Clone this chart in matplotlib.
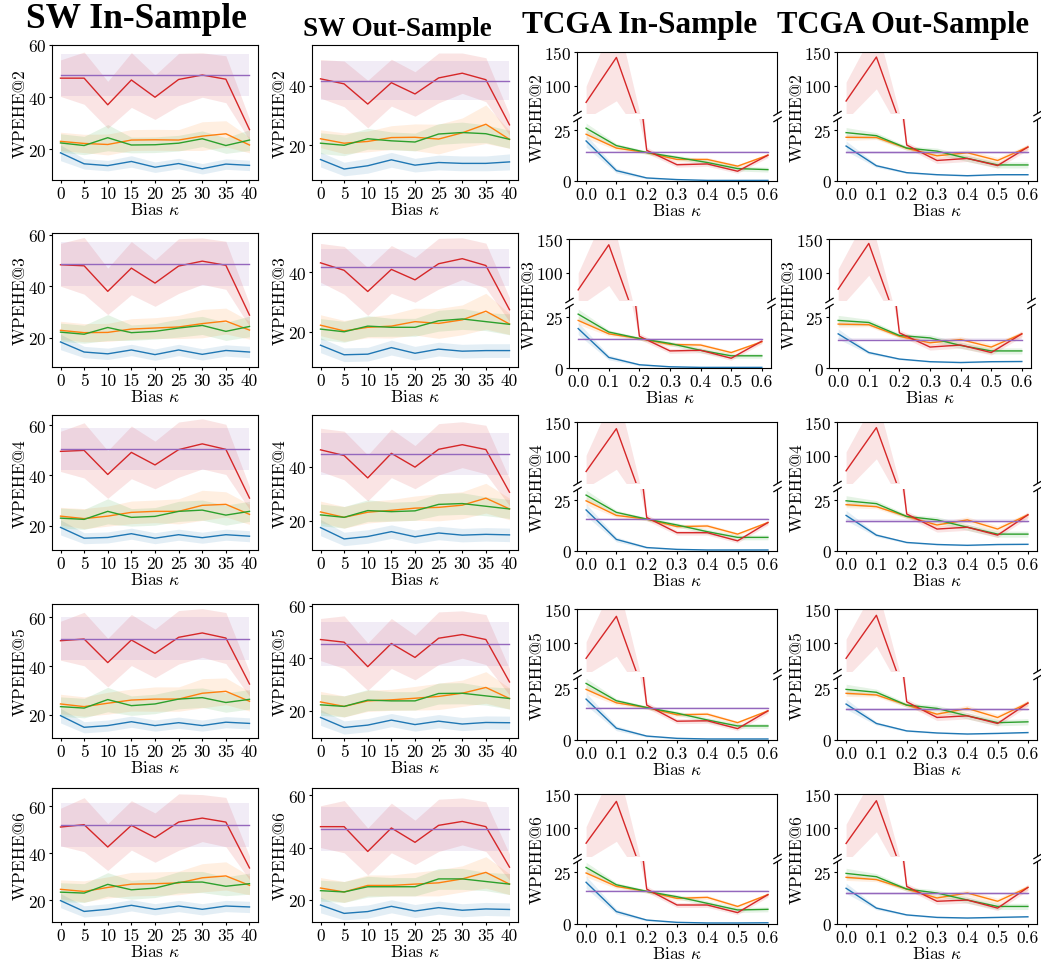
import matplotlib
matplotlib.use("Agg")
import matplotlib.pyplot as plt
from matplotlib.ticker import MultipleLocator, FixedLocator

plt.rcParams['font.family'] = ['cmr10', 'DejaVu Serif']
plt.rcParams['mathtext.fontset'] = 'cm'
plt.rcParams['axes.formatter.use_mathtext'] = True
plt.rcParams['axes.unicode_minus'] = False

# ---------------- data ----------------
SW_X = [0, 5, 10, 15, 20, 25, 30, 35, 40]
TCGA_X = [0.0, 0.1, 0.2, 0.3, 0.4, 0.5, 0.6]
TCGA_TICKLABELS = ["0.0", "0.1", "0.2", "0.3", "0.4", "0.5", "0.6"]
K_VALUES = [2, 3, 4, 5, 6]
COLUMN_TITLES = ["SW In-Sample", "SW Out-Sample", "TCGA In-Sample", "TCGA Out-Sample"]
SERIES_COLORS = ["tab:blue", "tab:orange", "tab:green", "tab:red"]
BASE_COLOR = "tab:purple"

# rows: blue, orange, green, red ; base = [mean, half-width]
swin_k2_mean = [[18.7, 14.5, 13.8, 15.4, 13.2, 14.6, 12.6, 14.4, 13.9],
                [23.1, 22.3, 21.9, 23.6, 23.7, 23.6, 25.1, 26.0, 21.7],
                [22.5, 21.5, 24.5, 21.7, 21.8, 22.4, 24.1, 21.5, 23.6],
                [47.3, 47.3, 37.1, 46.6, 40.0, 46.8, 48.5, 46.9, 27.6]]
swin_k2_err = [[3.0, 2.0, 2.0, 2.2, 2.0, 2.0, 2.0, 2.0, 2.0],
               [3.5, 3.5, 4.0, 4.0, 4.0, 4.0, 5.5, 5.0, 3.0],
               [3.5, 3.5, 5.0, 3.0, 3.0, 3.0, 3.0, 3.0, 4.0],
               [7.0, 10.0, 9.0, 10.5, 8.5, 10.0, 8.5, 9.0, 4.0]]
swin_k2_base = [48.5, 8.1]

swout_k2_mean = [[15.2, 12.0, 13.1, 15.1, 13.3, 14.2, 13.9, 13.9, 14.4],
                 [22.2, 20.7, 21.3, 22.6, 22.7, 22.1, 24.2, 27.1, 22.0],
                 [20.7, 20.0, 22.2, 21.5, 21.1, 23.8, 24.3, 23.9, 22.0],
                 [42.4, 40.7, 33.9, 41.1, 37.3, 42.7, 44.3, 42.1, 26.9]]
swout_k2_err = [[2.5, 2.3, 2.5, 2.5, 2.3, 2.5, 2.5, 2.5, 2.7],
                [3.0, 3.5, 3.5, 4.0, 4.5, 5.0, 5.0, 6.5, 3.0],
                [3.5, 3.5, 3.5, 3.0, 3.0, 3.5, 3.5, 3.0, 3.0],
                [6.5, 7.7, 8.0, 7.9, 7.5, 8.4, 6.8, 7.4, 3.5]]
swout_k2_base = [41.8, 6.5]

swin_k3_mean = [[18.4, 14.5, 13.8, 15.3, 13.5, 15.3, 13.6, 15.1, 14.5],
                [22.9, 22.0, 22.1, 23.4, 23.8, 24.2, 25.5, 26.5, 23.0],
                [22.2, 21.4, 24.0, 22.0, 22.5, 23.8, 24.8, 22.5, 24.4],
                [48.3, 47.9, 38.0, 47.0, 41.2, 47.8, 49.7, 48.1, 28.8]]
swin_k3_err = [[3.0, 2.2, 2.2, 2.2, 2.2, 2.2, 2.2, 2.2, 2.2],
               [3.5, 3.5, 3.5, 4.0, 4.0, 4.5, 5.5, 5.0, 3.5],
               [3.5, 3.5, 5.0, 3.0, 3.0, 3.5, 3.5, 3.5, 4.0],
               [8.3, 11.0, 9.0, 10.3, 9.0, 10.6, 9.0, 9.3, 4.3]]
swin_k3_base = [48.6, 8.4]

swout_k3_mean = [[15.5, 12.3, 12.5, 14.7, 12.8, 14.2, 13.5, 13.7, 13.7],
                 [22.2, 20.3, 21.5, 21.9, 23.4, 22.8, 24.0, 26.9, 22.6],
                 [20.9, 20.0, 21.9, 21.5, 21.5, 23.7, 24.3, 23.4, 22.5],
                 [43.1, 40.6, 33.5, 40.9, 37.4, 42.8, 44.5, 42.2, 27.4]]
swout_k3_err = [[2.5, 2.3, 2.3, 2.5, 2.3, 2.3, 2.3, 2.3, 2.3],
                [3.5, 3.5, 3.5, 4.0, 4.5, 5.0, 5.0, 6.0, 3.5],
                [3.5, 3.5, 3.5, 3.0, 3.0, 3.5, 3.5, 3.0, 3.5],
                [6.5, 8.0, 8.0, 8.0, 7.5, 8.5, 7.0, 7.5, 4.0]]
swout_k3_base = [41.6, 6.3]

swin_k4_mean = [[19.3, 15.0, 15.3, 16.8, 15.0, 16.4, 15.2, 16.4, 15.8],
                [23.8, 22.8, 23.8, 25.3, 25.7, 25.7, 28.1, 28.5, 24.5],
                [23.0, 22.5, 25.7, 23.3, 23.7, 25.7, 26.2, 24.2, 25.7],
                [49.6, 50.0, 40.4, 49.2, 44.2, 50.3, 52.6, 50.4, 31.0]]
swin_k4_err = [[3.0, 2.2, 2.2, 2.2, 2.2, 2.2, 2.2, 2.2, 2.2],
               [3.5, 4.0, 4.0, 4.5, 4.5, 5.0, 6.0, 5.0, 4.0],
               [4.0, 4.0, 5.0, 3.5, 3.5, 4.0, 4.0, 4.0, 4.0],
               [8.0, 11.0, 9.5, 10.5, 9.5, 11.0, 10.0, 10.0, 4.5]]
swin_k4_base = [50.6, 8.5]

swout_k4_mean = [[17.4, 13.2, 14.1, 15.9, 14.0, 15.4, 14.6, 14.9, 14.7],
                 [23.2, 21.2, 23.1, 23.8, 24.6, 24.9, 25.7, 28.3, 24.3],
                 [22.1, 21.2, 23.7, 23.3, 23.6, 26.0, 26.3, 25.3, 24.3],
                 [46.2, 44.1, 35.8, 44.9, 39.8, 46.4, 48.1, 46.3, 30.5]]
swout_k4_err = [[3.0, 2.5, 2.5, 2.5, 2.5, 2.5, 2.5, 2.5, 2.5],
                [4.0, 4.0, 4.0, 4.0, 4.5, 5.0, 5.0, 5.5, 4.0],
                [4.0, 4.0, 4.0, 3.5, 3.5, 4.0, 4.0, 3.5, 3.5],
                [8.0, 9.0, 8.5, 9.0, 8.0, 9.5, 8.5, 9.0, 5.0]]
swout_k4_base = [44.7, 7.7]

swin_k5_mean = [[19.6, 14.8, 15.5, 17.1, 15.5, 16.7, 15.5, 16.9, 16.4],
                [24.4, 23.3, 24.7, 26.0, 26.4, 26.4, 28.8, 29.6, 25.5],
                [23.3, 22.7, 26.2, 23.7, 24.4, 26.4, 27.0, 25.0, 26.3],
                [50.4, 51.1, 41.4, 50.7, 45.2, 51.8, 53.6, 51.5, 32.6]]
swin_k5_err = [[3.0, 2.3, 2.3, 2.3, 2.3, 2.3, 2.3, 2.3, 2.3],
               [4.0, 4.0, 4.5, 4.5, 5.0, 5.0, 6.0, 5.5, 4.0],
               [4.0, 4.0, 5.0, 4.0, 4.0, 4.0, 4.0, 4.0, 4.0],
               [8.0, 11.0, 10.0, 10.5, 10.0, 11.0, 10.0, 10.5, 5.0]]
swin_k5_base = [51.2, 8.9]

swout_k5_mean = [[17.5, 13.7, 14.6, 16.5, 14.8, 16.1, 15.0, 15.6, 15.5],
                 [23.4, 21.7, 23.8, 24.2, 24.8, 25.5, 26.7, 28.9, 24.7],
                 [22.3, 21.7, 24.1, 23.8, 23.8, 26.6, 26.7, 25.7, 24.7],
                 [47.1, 46.1, 36.8, 45.6, 40.3, 47.6, 49.0, 47.1, 31.0]]
swout_k5_err = [[3.0, 2.5, 2.5, 2.5, 2.5, 2.5, 2.5, 2.5, 2.5],
                [4.0, 4.0, 4.0, 4.0, 4.5, 5.0, 5.0, 6.0, 4.0],
                [4.0, 4.0, 4.0, 3.5, 3.5, 4.0, 4.0, 3.5, 4.0],
                [8.0, 10.0, 9.0, 9.5, 8.5, 10.0, 9.0, 9.5, 5.0]]
swout_k5_base = [45.4, 8.2]

swin_k6_mean = [[19.9, 15.3, 16.2, 17.9, 16.2, 17.6, 16.2, 17.6, 17.2],
                [24.7, 23.8, 25.5, 26.9, 27.1, 27.4, 29.6, 30.4, 26.4],
                [23.5, 23.1, 26.8, 24.5, 25.2, 27.7, 27.8, 26.0, 27.1],
                [51.2, 52.2, 42.7, 51.9, 46.7, 53.3, 55.0, 53.3, 33.8]]
swin_k6_err = [[3.0, 2.4, 2.4, 2.4, 2.4, 2.4, 2.4, 2.4, 2.4],
               [4.0, 4.5, 4.5, 5.0, 5.0, 5.0, 6.0, 6.0, 4.0],
               [4.0, 4.0, 5.0, 4.0, 4.0, 4.5, 4.5, 4.0, 4.5],
               [8.0, 11.5, 10.0, 10.5, 10.5, 12.0, 10.0, 10.5, 5.0]]
swin_k6_base = [52.1, 9.3]

swout_k6_mean = [[18.0, 14.8, 15.5, 17.5, 15.7, 17.0, 16.0, 16.5, 16.3],
                 [24.5, 23.0, 25.5, 25.5, 26.0, 26.5, 28.0, 30.5, 26.0],
                 [23.5, 23.0, 25.0, 25.0, 25.0, 28.0, 28.0, 27.0, 26.0],
                 [48.0, 48.0, 38.5, 47.5, 42.0, 48.5, 50.0, 48.0, 32.5]]
swout_k6_err = [[3.0, 2.5, 2.5, 2.5, 2.5, 2.5, 2.5, 2.5, 2.5],
                [4.0, 4.0, 4.0, 4.0, 4.5, 5.0, 5.0, 6.0, 4.0],
                [4.0, 4.0, 4.0, 3.5, 3.5, 4.0, 4.0, 3.5, 4.0],
                [8.0, 10.0, 9.0, 9.5, 8.5, 10.0, 9.0, 9.5, 5.0]]
swout_k6_base = [47.0, 8.5]

SW_YLIMS = [[(8.3, 60.0), (8.3, 53.8)],
            [(8.7, 60.6), (8.2, 53.1)],
            [(10.3, 64.1), (9.1, 59.1)],
            [(10.4, 65.5), (9.7, 60.6)],
            [(10.8, 67.8), (11.5, 62.8)]]

tcgain_k2_mean = [[19.7, 5.1, 1.5, 0.7, 0.3, 0.3, 0.3],
                  [23.0, 16.2, 14.0, 10.6, 10.6, 7.3, 12.7],
                  [26.0, 17.4, 14.0, 11.6, 9.1, 6.1, 5.6],
                  [75.7, 142.0, 15.1, 8.0, 8.4, 4.8, 12.7]]
tcgain_k2_err = [[3.0, 1.2, 0.5, 0.3, 0.2, 0.2, 0.2],
                 [2.0, 1.0, 0.8, 1.0, 1.0, 0.8, 0.8],
                 [2.5, 1.0, 0.8, 1.0, 1.2, 1.2, 1.2],
                 [24.0, 64.0, 1.5, 1.2, 1.2, 1.0, 1.2]]
tcgain_k2_base = [14.1, 0.5]

tcgaout_k2_mean = [[17.2, 7.5, 4.1, 3.1, 2.6, 3.1, 3.1],
                   [21.5, 21.4, 16.1, 12.4, 13.9, 10.1, 16.7],
                   [23.8, 22.3, 16.2, 14.7, 11.1, 7.9, 7.9],
                   [77.7, 142.6, 17.7, 10.1, 11.1, 7.6, 16.7]]
tcgaout_k2_err = [[2.5, 0.8, 0.4, 0.3, 0.3, 0.3, 0.3],
                  [1.5, 1.0, 1.0, 1.2, 1.5, 1.5, 1.2],
                  [2.5, 1.5, 1.0, 1.5, 1.5, 1.5, 1.5],
                  [28.0, 47.0, 1.5, 1.5, 1.5, 1.2, 1.5]]
tcgaout_k2_base = [14.1, 0.8]

tcgain_k3_mean = [[19.4, 5.2, 1.6, 0.6, 0.3, 0.3, 0.3],
                  [23.4, 16.8, 14.5, 11.6, 11.3, 7.6, 12.9],
                  [26.5, 17.7, 14.5, 12.1, 8.7, 6.0, 6.0],
                  [75.0, 141.5, 15.6, 8.4, 8.7, 4.8, 13.2]]
tcgain_k3_err = [[3.0, 1.2, 0.5, 0.3, 0.2, 0.2, 0.2],
                 [2.0, 1.0, 0.8, 1.0, 1.0, 0.8, 0.8],
                 [2.5, 1.0, 0.8, 1.0, 1.2, 1.2, 1.2],
                 [25.0, 60.0, 1.5, 1.2, 1.2, 1.0, 1.2]]
tcgain_k3_base = [14.5, 0.5]

tcgaout_k3_mean = [[16.8, 7.6, 4.4, 3.1, 2.7, 3.1, 3.2],
                   [21.6, 21.3, 15.6, 12.4, 14.0, 10.3, 16.8],
                   [23.4, 22.4, 16.0, 14.8, 11.1, 8.4, 8.4],
                   [76.0, 143.5, 17.3, 10.3, 11.3, 7.6, 16.8]]
tcgaout_k3_err = [[2.5, 0.8, 0.4, 0.3, 0.3, 0.3, 0.3],
                  [1.5, 1.0, 1.0, 1.2, 1.5, 1.5, 1.2],
                  [2.5, 1.5, 1.0, 1.5, 1.5, 1.5, 1.5],
                  [30.0, 47.0, 1.5, 1.5, 1.5, 1.2, 1.5]]
tcgaout_k3_base = [14.0, 0.8]

tcgain_k4_mean = [[20.2, 5.7, 1.7, 0.8, 0.5, 0.5, 0.5],
                  [24.7, 17.5, 15.7, 12.0, 12.3, 8.3, 14.0],
                  [27.5, 19.0, 15.7, 12.8, 9.5, 6.7, 6.7],
                  [77.0, 140.2, 16.5, 9.0, 9.0, 5.0, 14.0]]
tcgain_k4_err = [[3.0, 1.2, 0.5, 0.3, 0.2, 0.2, 0.2],
                 [2.0, 1.0, 0.8, 1.0, 1.0, 0.8, 0.8],
                 [2.5, 1.0, 0.8, 1.0, 1.2, 1.2, 1.2],
                 [24.0, 60.0, 1.5, 1.2, 1.2, 1.0, 1.2]]
tcgain_k4_base = [15.7, 0.5]

tcgaout_k4_mean = [[17.5, 7.8, 4.2, 3.2, 2.8, 3.2, 3.3],
                   [22.8, 21.8, 17.0, 12.8, 15.3, 10.8, 17.8],
                   [24.7, 23.3, 17.0, 15.3, 11.7, 8.3, 8.3],
                   [78.0, 141.7, 18.2, 10.8, 11.7, 7.8, 17.8]]
tcgaout_k4_err = [[2.5, 0.8, 0.4, 0.3, 0.3, 0.3, 0.3],
                  [1.5, 1.0, 1.0, 1.2, 1.5, 1.5, 1.2],
                  [2.5, 1.5, 1.0, 1.5, 1.5, 1.5, 1.5],
                  [28.0, 46.0, 1.5, 1.5, 1.5, 1.2, 1.5]]
tcgaout_k4_base = [14.8, 0.8]

tcgain_k5_mean = [[19.8, 5.7, 1.9, 0.8, 0.5, 0.5, 0.5],
                  [24.5, 18.0, 15.7, 12.2, 12.5, 8.4, 14.1],
                  [27.4, 19.0, 15.7, 13.0, 9.7, 6.8, 6.8],
                  [78.4, 139.4, 16.9, 9.1, 9.3, 5.5, 14.1]]
tcgain_k5_err = [[3.0, 1.2, 0.5, 0.3, 0.2, 0.2, 0.2],
                 [2.0, 1.0, 0.8, 1.0, 1.0, 0.8, 0.8],
                 [2.5, 1.0, 0.8, 1.0, 1.2, 1.2, 1.2],
                 [24.0, 58.0, 1.5, 1.2, 1.2, 1.0, 1.2]]
tcgain_k5_base = [15.7, 0.5]

tcgaout_k5_mean = [[17.4, 8.0, 4.4, 3.4, 2.9, 3.2, 3.6],
                   [22.6, 21.8, 16.9, 12.5, 15.3, 10.9, 17.9],
                   [24.5, 23.1, 16.9, 15.3, 11.7, 8.4, 8.8],
                   [78.4, 140.9, 18.5, 10.9, 11.7, 8.0, 17.9]]
tcgaout_k5_err = [[2.5, 0.8, 0.4, 0.3, 0.3, 0.3, 0.3],
                  [1.5, 1.0, 1.0, 1.2, 1.5, 1.5, 1.2],
                  [2.5, 1.5, 1.0, 1.5, 1.5, 1.5, 1.5],
                  [28.0, 45.0, 1.5, 1.5, 1.5, 1.2, 1.5]]
tcgaout_k5_base = [14.9, 0.8]

tcgain_k6_mean = [[20.2, 6.0, 1.9, 0.8, 0.5, 0.5, 0.6],
                  [24.7, 18.2, 15.8, 12.4, 12.9, 8.5, 14.2],
                  [27.4, 19.0, 15.8, 13.2, 10.0, 6.8, 7.1],
                  [78.6, 139.3, 16.9, 9.2, 9.2, 5.5, 14.2]]
tcgain_k6_err = [[3.0, 1.2, 0.5, 0.3, 0.2, 0.2, 0.2],
                 [2.0, 1.0, 0.8, 1.0, 1.0, 0.8, 0.8],
                 [2.5, 1.0, 0.8, 1.0, 1.2, 1.2, 1.2],
                 [24.0, 58.0, 1.5, 1.2, 1.2, 1.0, 1.2]]
tcgain_k6_base = [15.8, 0.5]

tcgaout_k6_mean = [[17.3, 7.7, 4.4, 3.2, 2.9, 3.2, 3.5],
                   [22.6, 21.5, 16.9, 12.6, 15.0, 11.0, 17.7],
                   [24.5, 22.9, 16.9, 15.0, 11.6, 8.5, 8.5],
                   [78.2, 140.3, 18.2, 11.0, 11.6, 7.7, 17.7]]
tcgaout_k6_err = [[2.5, 0.8, 0.4, 0.3, 0.3, 0.3, 0.3],
                  [1.5, 1.0, 1.0, 1.2, 1.5, 1.5, 1.2],
                  [2.5, 1.5, 1.0, 1.5, 1.5, 1.5, 1.5],
                  [28.0, 45.0, 1.5, 1.5, 1.5, 1.2, 1.5]]
tcgaout_k6_base = [14.8, 0.8]

TCGA_UPPER_YLIM = (60, 150)
TCGA_LOWER_YLIM = (0, 30.5)

SW_PANELS = [
    [(swin_k2_mean, swin_k2_err, swin_k2_base), (swout_k2_mean, swout_k2_err, swout_k2_base)],
    [(swin_k3_mean, swin_k3_err, swin_k3_base), (swout_k3_mean, swout_k3_err, swout_k3_base)],
    [(swin_k4_mean, swin_k4_err, swin_k4_base), (swout_k4_mean, swout_k4_err, swout_k4_base)],
    [(swin_k5_mean, swin_k5_err, swin_k5_base), (swout_k5_mean, swout_k5_err, swout_k5_base)],
    [(swin_k6_mean, swin_k6_err, swin_k6_base), (swout_k6_mean, swout_k6_err, swout_k6_base)],
]
TCGA_PANELS = [
    [(tcgain_k2_mean, tcgain_k2_err, tcgain_k2_base), (tcgaout_k2_mean, tcgaout_k2_err, tcgaout_k2_base)],
    [(tcgain_k3_mean, tcgain_k3_err, tcgain_k3_base), (tcgaout_k3_mean, tcgaout_k3_err, tcgaout_k3_base)],
    [(tcgain_k4_mean, tcgain_k4_err, tcgain_k4_base), (tcgaout_k4_mean, tcgaout_k4_err, tcgaout_k4_base)],
    [(tcgain_k5_mean, tcgain_k5_err, tcgain_k5_base), (tcgaout_k5_mean, tcgaout_k5_err, tcgaout_k5_base)],
    [(tcgain_k6_mean, tcgain_k6_err, tcgain_k6_base), (tcgaout_k6_mean, tcgaout_k6_err, tcgaout_k6_base)],
]

# ---------------- layout (pixels) ----------------
W, H = 1041, 962
SW_COL_X = [(52, 258), (312, 518)]
SW_ROW_Y = [(46, 181), (234, 368), (416, 551), (605, 739), (789, 923)]
TCGA_COL_X = [[(577, 777), (837, 1037)], [(569, 771), (829, 1031)], [(577, 777), (837, 1037)],
              [(577, 777), (837, 1037)], [(577, 777), (837, 1037)]]
TCGA_ROW_Y = [(53, 114, 120, 182), (240, 301, 307, 369), (423, 484, 490, 552),
              (610, 672, 678, 741), (795, 857, 862, 925)]
SW_YLABEL_X = [20, 280]
TCGA_YLABEL_X = [[537, 797], [529, 789], [537, 797], [537, 797], [537, 797]]

FS = 12.5
LW = 1.0
ALPHA = 0.12
TITLE_POS = [(136, 20), (397, 29), (640, 25), (903, 25)]
TITLE_SIZES = [25.5, 19.5, 22.5, 22]


def box(x0, x1, y0, y1):
    return [x0 / W, 1 - y1 / H, (x1 - x0) / W, (y1 - y0) / H]


def draw_series(ax, x, means, errs, base):
    for m, e, c in zip(means, errs, SERIES_COLORS):
        lo = [a - b for a, b in zip(m, e)]
        hi = [a + b for a, b in zip(m, e)]
        ax.fill_between(x, lo, hi, color=c, alpha=ALPHA, linewidth=0)
        ax.plot(x, m, color=c, lw=LW)
    bm, be = base
    ax.fill_between(x, [bm - be] * len(x), [bm + be] * len(x), color=BASE_COLOR, alpha=ALPHA, linewidth=0)
    ax.plot(x, [bm] * len(x), color=BASE_COLOR, lw=LW)


def style_ticks(ax):
    ax.tick_params(axis='both', labelsize=FS, length=2.5, width=0.8, pad=1.5)


fig = plt.figure(figsize=(W / 100, H / 100), dpi=100)

for r, k in enumerate(K_VALUES):
    # SW panels
    for c in range(2):
        means, errs, base = SW_PANELS[r][c]
        x0, x1 = SW_COL_X[c]
        y0, y1 = SW_ROW_Y[r]
        ax = fig.add_axes(box(x0, x1, y0, y1))
        draw_series(ax, SW_X, means, errs, base)
        ax.set_xlim(-1.8, 41.8)
        ax.set_ylim(*SW_YLIMS[r][c])
        ax.xaxis.set_major_locator(FixedLocator(SW_X))
        ax.set_xticklabels([str(v) for v in SW_X])
        ax.yaxis.set_major_locator(MultipleLocator(20))
        style_ticks(ax)
        ax.set_xlabel(r"Bias $\kappa$", fontsize=FS, labelpad=0)
        fig.text(SW_YLABEL_X[c] / W, 1 - (y0 + y1) / 2 / H, f"WPEHE@{k}",
                 rotation=90, ha='center', va='center', fontsize=FS)
    # TCGA panels (broken axis)
    for c in range(2):
        means, errs, base = TCGA_PANELS[r][c]
        x0, x1 = TCGA_COL_X[r][c]
        yt0, yt1, yb0, yb1 = TCGA_ROW_Y[r]
        ax_t = fig.add_axes(box(x0, x1, yt0, yt1))
        ax_b = fig.add_axes(box(x0, x1, yb0, yb1))
        for ax in (ax_t, ax_b):
            draw_series(ax, TCGA_X, means, errs, base)
            ax.set_xlim(-0.03, 0.63)
            style_ticks(ax)
        ax_t.set_ylim(*TCGA_UPPER_YLIM)
        ax_b.set_ylim(*TCGA_LOWER_YLIM)
        ax_t.yaxis.set_major_locator(FixedLocator([100, 150]))
        ax_b.yaxis.set_major_locator(FixedLocator([0, 25]))
        ax_t.spines['bottom'].set_visible(False)
        ax_b.spines['top'].set_visible(False)
        ax_t.tick_params(axis='x', which='both', bottom=False, labelbottom=False)
        ax_b.xaxis.set_major_locator(FixedLocator(TCGA_X))
        ax_b.set_xticklabels(TCGA_TICKLABELS)
        ax_b.set_xlabel(r"Bias $\kappa$", fontsize=FS, labelpad=0)
        d = 0.6
        kw = dict(marker=[(-1, -d), (1, d)], markersize=6, linestyle='none',
                  color='k', mec='k', mew=0.9, clip_on=False)
        ax_t.plot([0, 1], [0, 0], transform=ax_t.transAxes, **kw)
        ax_b.plot([0, 1], [1, 1], transform=ax_b.transAxes, **kw)
        fig.text(TCGA_YLABEL_X[r][c] / W, 1 - (yt0 + yb1) / 2 / H, f"WPEHE@{k}",
                 rotation=90, ha='center', va='center', fontsize=FS)

for t, (tx, ty), ts in zip(COLUMN_TITLES, TITLE_POS, TITLE_SIZES):
    fig.text(tx / W, 1 - ty / H, t, ha='center', va='center', fontsize=ts,
             fontweight='bold', family='Liberation Serif')

fig.savefig("out.png", dpi=100)
